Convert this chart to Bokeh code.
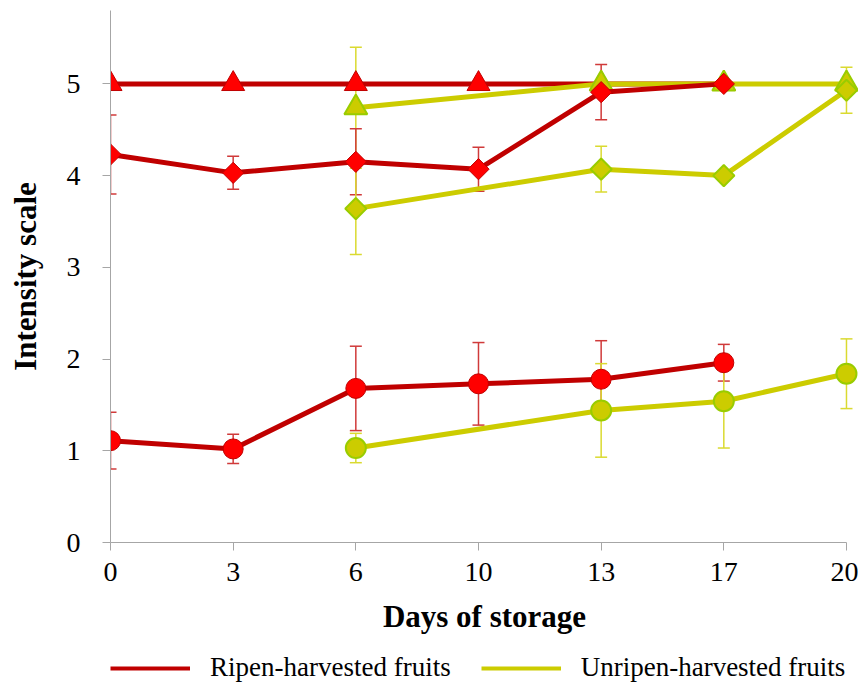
import numpy as np
from bokeh.plotting import figure
from bokeh.layouts import column
from bokeh.models import (ColumnDataSource, Range1d, FixedTicker, Whisker, TeeHead,
                          Legend, LegendItem)
from bokeh.embed import file_html
from bokeh.resources import INLINE

# ---------------- data ----------------
days = ["0", "3", "6", "10", "13", "17", "20"]

ripe_tri = [5.0, 5.0, 5.0, 5.0, 5.0, 5.0, None]
ripe_tri_sd = [0, 0, 0, 0, 0, 0, None]
ripe_dia = [4.23, 4.03, 4.15, 4.07, 4.91, 5.0, None]
ripe_dia_sd = [0.43, 0.18, 0.36, 0.24, 0.30, 0, None]
ripe_cir = [1.11, 1.02, 1.68, 1.73, 1.78, 1.96, None]
ripe_cir_sd = [0.31, 0.16, 0.46, 0.45, 0.42, 0.20, None]

unripe_tri = [None, None, 4.74, None, 5.0, 5.0, 5.0]
unripe_tri_sd = [None, None, 0.66, None, 0, 0, 0]
unripe_dia = [None, None, 3.64, None, 4.07, 4.0, 4.93]
unripe_dia_sd = [None, None, 0.50, None, 0.25, 0, 0.25]
unripe_cir = [None, None, 1.03, None, 1.44, 1.54, 1.84]
unripe_cir_sd = [None, None, 0.16, None, 0.51, 0.51, 0.38]

y_ticks = [0, 1, 2, 3, 4, 5]
series_names = ["Ripen-harvested fruits", "Unripen-harvested fruits"]

# ---------------- styling ----------------
RED_LINE = "#C00000"
RED_FILL = "#FF0000"
RED_ERR = "#D03A3A"
YEL_LINE = "#CCCC00"
YEL_FILL = "#CCCC00"
YEL_EDGE = "#99CC00"
YEL_ERR = "#DADA30"
AXIS_COL = "#A6A6A6"
FONT = "Liberation Serif"

W = 858
H_MAIN = 645
H_LEG = 44

n = len(days)
p = figure(width=W, height=H_MAIN, output_backend="svg", toolbar_location=None,
           x_range=Range1d(0, (n - 1) + 0.098), y_range=Range1d(0, 5.8),
           min_border_left=110, min_border_right=0, min_border_top=10,
           min_border_bottom=H_MAIN - 542)
p.outline_line_color = None
p.xgrid.visible = False
p.ygrid.visible = False
p.background_fill_color = "white"
p.border_fill_color = "white"

# axes
p.xaxis.ticker = FixedTicker(ticks=list(range(n)))
p.xaxis.major_label_overrides = {i: d for i, d in enumerate(days)}
p.xaxis.bounds = (0, n - 1)
p.yaxis.ticker = FixedTicker(ticks=y_ticks)
for ax in (p.xaxis[0], p.yaxis[0]):
    ax.axis_line_color = AXIS_COL
    ax.major_tick_line_color = AXIS_COL
    ax.major_tick_in = 0
    ax.major_tick_out = 8
    ax.minor_tick_line_color = None
    ax.major_label_text_font = FONT
    ax.major_label_text_font_size = "28px"
    ax.major_label_text_color = "black"
    ax.axis_label_text_font = FONT
    ax.axis_label_text_font_size = "31px"
    ax.axis_label_text_font_style = "bold"
    ax.axis_label_text_color = "black"
p.xaxis.axis_label = "Days of storage"
p.yaxis.axis_label = "Intensity scale"
p.xaxis.major_label_standoff = 12
p.xaxis.axis_label_standoff = 15
p.yaxis.major_label_standoff = 22
p.yaxis.axis_label_standoff = 21


def pts(vals, sds=None):
    xs, ys, ss = [], [], []
    for i, v in enumerate(vals):
        if v is None:
            continue
        xs.append(i)
        ys.append(v)
        ss.append(0 if sds is None or sds[i] is None else sds[i])
    return xs, ys, ss


def series(vals, sds, line_col, fill, edge, err_col, marker, size, angle=0.0, edge_w=1.0):
    xs, ys, ss = pts(vals, sds)
    p.line(xs, ys, line_color=line_col, line_width=5)
    ex = [x for x, s in zip(xs, ss) if s > 0]
    ey = [y for y, s in zip(ys, ss) if s > 0]
    es = [s for s in ss if s > 0]
    if ex:
        src = ColumnDataSource(dict(x=ex, lo=[y - s for y, s in zip(ey, es)],
                                    hi=[y + s for y, s in zip(ey, es)]))
        w = Whisker(source=src, base="x", lower="lo", upper="hi", dimension="height",
                    line_color=err_col, line_width=1.5,
                    upper_head=TeeHead(size=12, line_color=err_col, line_width=1.5),
                    lower_head=TeeHead(size=12, line_color=err_col, line_width=1.5))
        p.add_layout(w)
    p.scatter(xs, ys, marker=marker, size=size, angle=angle, fill_color=fill,
              line_color=edge, line_width=edge_w)


series(ripe_tri, ripe_tri_sd, RED_LINE, RED_FILL, RED_LINE, RED_ERR, "triangle", 23)
series(unripe_tri, unripe_tri_sd, YEL_LINE, YEL_FILL, YEL_EDGE, YEL_ERR, "triangle", 23, edge_w=2)
series(ripe_dia, ripe_dia_sd, RED_LINE, RED_FILL, RED_LINE, RED_ERR, "square", 15, angle=np.pi / 4)
series(unripe_dia, unripe_dia_sd, YEL_LINE, YEL_FILL, YEL_EDGE, YEL_ERR, "square", 15, angle=np.pi / 4, edge_w=2)
series(ripe_cir, ripe_cir_sd, RED_LINE, RED_FILL, RED_LINE, RED_ERR, "circle", 20)
series(unripe_cir, unripe_cir_sd, YEL_LINE, YEL_FILL, YEL_EDGE, YEL_ERR, "circle", 20, edge_w=2)

# ---------------- legend strip (separate small figure) ----------------
pl = figure(width=W, height=H_LEG, output_backend="svg", toolbar_location=None,
            x_range=Range1d(0, 1), y_range=Range1d(0, 1),
            x_axis_type=None, y_axis_type=None,
            min_border_left=0, min_border_right=0, min_border_top=0, min_border_bottom=0)
pl.outline_line_color = None
pl.xgrid.visible = False
pl.ygrid.visible = False
pl.border_fill_color = "white"
lr = pl.line([5, 6], [5, 5], line_color=RED_LINE, line_width=4)
ly = pl.line([5, 6], [5, 5], line_color=YEL_LINE, line_width=4)
legend = Legend(items=[LegendItem(label=series_names[0], renderers=[lr]),
                       LegendItem(label=series_names[1], renderers=[ly])],
                orientation="horizontal", location=(0, 6),
                label_text_font=FONT, label_text_font_size="27px",
                label_text_color="black",
                glyph_width=80, glyph_height=30, label_height=30,
                label_standoff=20, spacing=30, padding=0, margin=0,
                border_line_alpha=0, background_fill_alpha=0)
pl.add_layout(legend, "center")

layout = column(p, pl, spacing=0)
open("out.html", "w").write(file_html(layout, INLINE))
